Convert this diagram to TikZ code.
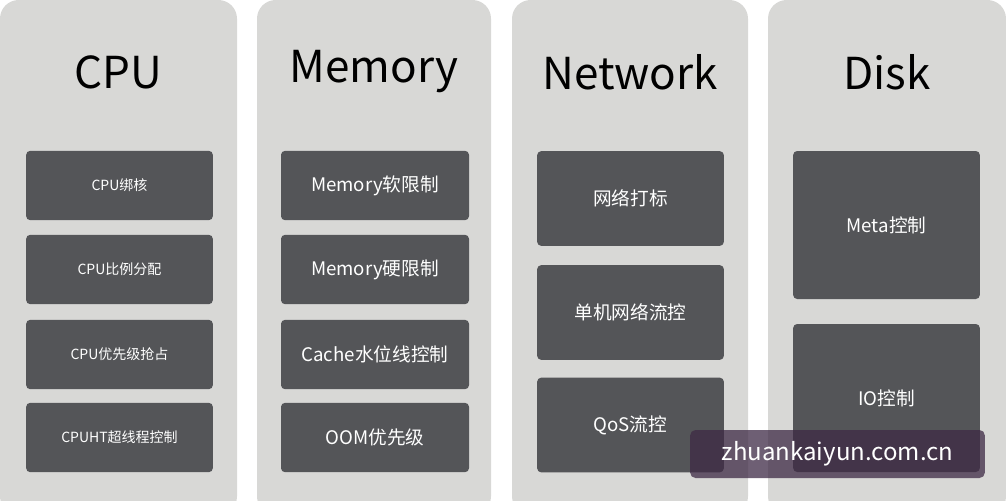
\documentclass[tikz,border=0pt]{standalone}
\usepackage{fontspec}
\setmainfont{Noto Sans CJK SC}
\usetikzlibrary{positioning}
\definecolor{panelgray}{HTML}{D8D8D6}
\definecolor{boxgray}{HTML}{545558}
\definecolor{markpurple}{HTML}{3E2A45}
\tikzset{
  panel/.style={fill=panelgray, rounded corners=14pt, draw=none},
  item/.style={fill=boxgray, rounded corners=3pt, text=white, align=center, inner sep=0pt},
  title/.style={font=\fontsize{33}{36}\selectfont, text=black}
}
\begin{document}
\begin{tikzpicture}[x=0.75pt,y=-0.75pt]
\useasboundingbox (0,0) rectangle (1006,500);
% panels
\fill[panel] (0,0) rectangle (237,515);
\fill[panel] (257,0) rectangle (491,515);
\fill[panel] (512,0) rectangle (748,515);
\fill[panel] (768,0) rectangle (1006,515);
% titles
\node[title] (tcpu) at (118,72) {CPU};
\node[title] (tmem) at (374,72) {Memory};
\node[title] (tnet) at (630,72) {Network};
\node[title] (tdisk) at (887,72) {Disk};
% CPU
\node[item, font=\fontsize{10.5}{12}\selectfont, minimum width=140pt, minimum height=52pt] (cpu1) at (119.5,185.5) {CPU绑核};
\node[item, font=\fontsize{10.5}{12}\selectfont, minimum width=140pt, minimum height=52pt] (cpu2) at (119.5,269.5) {CPU比例分配};
\node[item, font=\fontsize{10.5}{12}\selectfont, minimum width=140pt, minimum height=52pt] (cpu3) at (119.5,354.5) {CPU优先级抢占};
\node[item, font=\fontsize{10.5}{12}\selectfont, minimum width=140pt, minimum height=52pt] (cpu4) at (119.5,437.5) {CPUHT超线程控制};
% Memory
\node[item, font=\fontsize{14}{16}\selectfont, minimum width=141pt, minimum height=52pt] (mem1) at (375,185.5) {Memory软限制};
\node[item, font=\fontsize{14}{16}\selectfont, minimum width=141pt, minimum height=52pt] (mem2) at (375,269.5) {Memory硬限制};
\node[item, font=\fontsize{14}{16}\selectfont, minimum width=141pt, minimum height=52pt] (mem3) at (375,354.5) {Cache水位线控制};
\node[item, font=\fontsize{14}{16}\selectfont, minimum width=141pt, minimum height=52pt] (mem4) at (375,437.5) {OOM优先级};
% Network
\node[item, font=\fontsize{14}{16}\selectfont, minimum width=140pt, minimum height=71pt] (net1) at (630.5,198.5) {网络打标};
\node[item, font=\fontsize{14}{16}\selectfont, minimum width=140pt, minimum height=71pt] (net2) at (630.5,312.5) {单机网络流控};
\node[item, font=\fontsize{14}{16}\selectfont, minimum width=140pt, minimum height=71pt] (net3) at (630.5,425) {QoS流控};
% Disk
\node[item, font=\fontsize{14}{16}\selectfont, minimum width=140pt, minimum height=111pt] (disk1) at (886.5,225) {Meta控制};
\node[item, font=\fontsize{14}{16}\selectfont, minimum width=140pt, minimum height=111pt] (disk2) at (886.5,398) {IO控制};
% watermark
\node[fill=markpurple, fill opacity=0.75, text opacity=1, text=white, rounded corners=4pt,
  font=\fontsize{18}{20}\selectfont, minimum width=221pt, minimum height=36pt, inner sep=0pt] (mark) at (837.5,454) {zhuankaiyun.com.cn};
\end{tikzpicture}
\end{document}
